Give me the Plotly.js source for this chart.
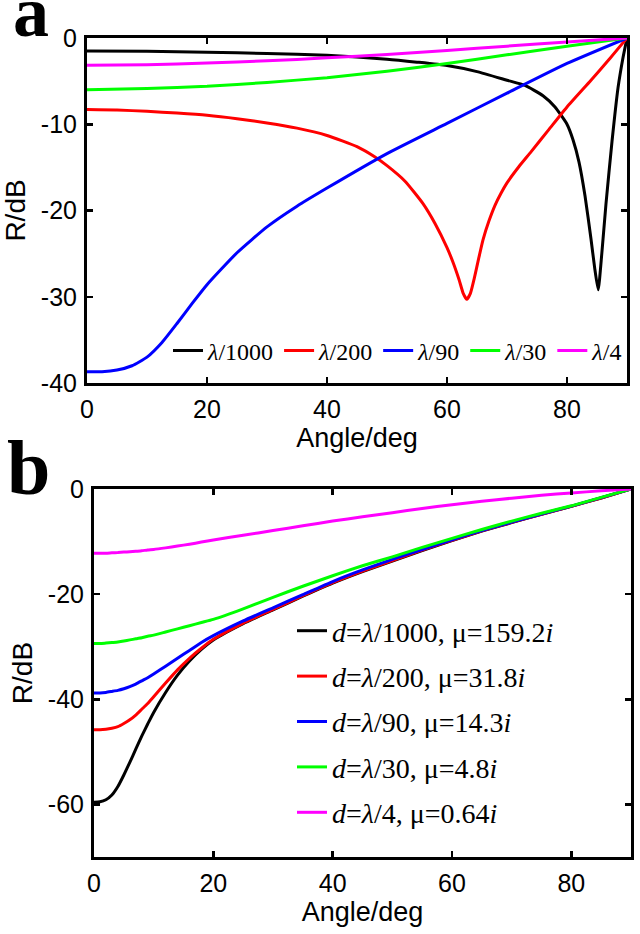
<!DOCTYPE html>
<html>
<head>
<meta charset="utf-8">
<script src="https://cdn.plot.ly/plotly-3.0.1.min.js"></script>
<style>html,body{margin:0;padding:0;background:#fff;}#chart{width:640px;height:934px;}</style>
</head>
<body>
<div id="chart"></div>
<script>
// ---------- Panel a data (angle in degrees, R in dB) ----------
const angA_l1000 = [0,10,20,30,40,50,55,60,65,70,73,76,78,80,81,82,83,84,84.6,85.2,85.8,86.5,87.5,88.5,89.3,90];
const a_l1000    = [-1.5,-1.55,-1.65,-1.8,-2.0,-2.45,-2.8,-3.2,-3.9,-4.9,-5.5,-6.7,-8.0,-10.0,-11.8,-14.4,-18.3,-23.3,-26.6,-29.2,-25.0,-19.2,-12.0,-5.8,-2.4,0];
const angA_l200  = [0,5,10,15,20,25,30,35,40,45,48,50,53,56,58,60,61,62,62.7,63.3,63.9,64.6,65.3,66,67,68,69,70,72,74,77,80,84,87,90];
const a_l200     = [-8.3,-8.35,-8.5,-8.7,-8.95,-9.35,-9.85,-10.45,-11.3,-12.6,-13.8,-14.8,-16.6,-19.2,-21.5,-24.3,-26.0,-28.0,-29.6,-30.3,-29.6,-27.7,-25.5,-23.4,-21.2,-19.4,-18.0,-16.8,-14.9,-13.2,-10.6,-8.0,-4.9,-2.5,0];
const angA_l90   = [0,2.5,5,7.5,10,12.5,15,17.5,20,25,30,35,40,50,60,70,80,90];
const a_l90      = [-38.7,-38.7,-38.5,-38.0,-37.0,-35.3,-33.1,-30.8,-28.6,-24.9,-21.9,-19.5,-17.4,-13.4,-9.9,-6.4,-2.95,0];
const angA_l30   = [0,10,20,30,40,50,60,70,80,90];
const a_l30      = [-6.0,-5.85,-5.6,-5.15,-4.6,-3.85,-2.95,-1.95,-0.95,0];
const angA_l4    = [0,10,20,30,40,50,60,70,80,90];
const a_l4       = [-3.15,-3.1,-2.9,-2.65,-2.3,-1.9,-1.45,-0.95,-0.45,0];

// ---------- Panel b data ----------
const angleB  = [0,1,2,3,4,5,6,7,8,9,10,12,14,16,18,20,25,30,35,40,45,50,55,60,65,70,75,80,85,90];
const b_l1000 = [-59.6,-59.5,-59.1,-58.2,-56.6,-54.4,-52.0,-49.5,-47.0,-44.7,-42.5,-38.7,-35.4,-32.7,-30.5,-28.7,-25.6,-23.0,-20.4,-17.9,-15.7,-13.7,-11.7,-9.8,-8.0,-6.4,-4.8,-3.3,-1.7,0];
const b_l200  = [-45.8,-45.8,-45.7,-45.5,-45.2,-44.6,-43.9,-43.0,-41.9,-40.8,-39.5,-36.9,-34.4,-32.2,-30.3,-28.6,-25.5,-22.9,-20.3,-17.8,-15.6,-13.6,-11.6,-9.75,-7.95,-6.35,-4.8,-3.3,-1.7,0];
const b_l90   = [-38.8,-38.8,-38.7,-38.5,-38.3,-38.0,-37.6,-37.1,-36.5,-35.9,-35.2,-33.7,-32.2,-30.7,-29.2,-27.9,-25.1,-22.6,-20.1,-17.6,-15.4,-13.4,-11.5,-9.65,-7.9,-6.3,-4.75,-3.25,-1.65,0];
const b_l30   = [-29.4,-29.4,-29.3,-29.2,-29.1,-28.9,-28.7,-28.5,-28.3,-28.0,-27.8,-27.2,-26.6,-26.0,-25.4,-24.8,-22.8,-20.6,-18.5,-16.5,-14.6,-12.9,-11.1,-9.4,-7.7,-6.1,-4.6,-3.2,-1.6,0];
const b_l4    = [-12.2,-12.2,-12.2,-12.15,-12.1,-12.0,-11.95,-11.85,-11.75,-11.6,-11.5,-11.2,-10.85,-10.5,-10.1,-9.7,-8.8,-7.9,-7.0,-6.1,-5.3,-4.5,-3.7,-3.0,-2.35,-1.75,-1.2,-0.75,-0.35,0];

// ---------- Labels ----------
const namesA = ["<i>λ</i>/1000","<i>λ</i>/200","<i>λ</i>/90","<i>λ</i>/30","<i>λ</i>/4"];
const namesB = ["<i>d</i>=<i>λ</i>/1000, μ=159.2<i>i</i>","<i>d</i>=<i>λ</i>/200, μ=31.8<i>i</i>","<i>d</i>=<i>λ</i>/90, μ=14.3<i>i</i>","<i>d</i>=<i>λ</i>/30, μ=4.8<i>i</i>","<i>d</i>=<i>λ</i>/4, μ=0.64<i>i</i>"];
const colors = ["#000000","#ff0000","#0000ff","#00ff00","#ff00ff"];
const xTickVals = [0,20,40,60,80];
const xTickText = ["0","20","40","60","80"];
const yTickValsA = [-40,-30,-20,-10,0];
const yTickTextA = ["-40","-30","-20","-10","0"];
const yTickValsB = [-60,-40,-20,0];
const yTickTextB = ["-60","-40","-20","0"];

const anglesA = [angA_l1000,angA_l200,angA_l90,angA_l30,angA_l4];
const seriesA = [a_l1000,a_l200,a_l90,a_l30,a_l4];
const seriesB = [b_l1000,b_l200,b_l90,b_l30,b_l4];

const W = 640, H = 934;
const sans = "Liberation Sans, Arial, Helvetica, sans-serif";
const serif = "Liberation Serif, Times New Roman, serif";

const traces = [];
seriesA.forEach((ys,i)=>{
  traces.push({x: anglesA[i], y: ys, type:'scatter', mode:'lines', name: namesA[i],
    line:{color: colors[i], width: 3, shape:'spline', smoothing: 0.5},
    xaxis:'x', yaxis:'y', legend:'legend'});
});
seriesB.forEach((ys,i)=>{
  traces.push({x: angleB, y: ys, type:'scatter', mode:'lines', name: namesB[i],
    line:{color: colors[i], width: 3, shape:'spline', smoothing: 0.5},
    xaxis:'x2', yaxis:'y2', legend:'legend2', legendgroup:'g'+i});
});

function axisCommon(){
  return {showline:true, linecolor:'#000', linewidth:3, mirror:'ticks',
    ticks:'inside', ticklen:6, tickwidth:2.5, tickcolor:'#000',
    showgrid:false, zeroline:false, tickmode:'array', ticklabelstandoff:2,
    tickfont:{family: sans, size: 25, color:'#000'}, fixedrange:true};
}

const layout = {
  width: W, height: H,
  margin:{l:0,r:0,t:0,b:0,pad:0},
  paper_bgcolor:'#fff', plot_bgcolor:'#fff',
  showlegend:true,
  xaxis: Object.assign(axisCommon(), {domain:[87/W, 627/W], range:[0,90], anchor:'y',
    tickvals:xTickVals, ticktext:xTickText,
    title:{text:'Angle/deg', font:{family:sans,size:27,color:'#000'}, standoff:0}}),
  yaxis: Object.assign(axisCommon(), {domain:[1-383/H, 1-38/H], range:[-40,0], anchor:'x',
    tickvals:yTickValsA, ticktext:yTickTextA,
    title:{text:'R/dB', font:{family:sans,size:28,color:'#000'}, standoff:8}}),
  xaxis2: Object.assign(axisCommon(), {domain:[94/W, 631/W], range:[0,90], anchor:'y2',
    tickvals:xTickVals, ticktext:xTickText,
    title:{text:'Angle/deg', font:{family:sans,size:27,color:'#000'}, standoff:0}}),
  yaxis2: Object.assign(axisCommon(), {domain:[1-857/H, 1-489/H], range:[-70,0], anchor:'x2',
    tickvals:yTickValsB, ticktext:yTickTextB,
    title:{text:'R/dB', font:{family:sans,size:28,color:'#000'}, standoff:8}}),
  legend:{orientation:'h', x:168/W, xanchor:'left', y:1-351/H, yanchor:'middle',
    bgcolor:'rgba(0,0,0,0)', borderwidth:0, font:{family:serif,size:24,color:'#000'}},
  legend2:{orientation:'v', x:292/W, xanchor:'left', y:1-606/H, yanchor:'top',
    bgcolor:'rgba(0,0,0,0)', borderwidth:0, tracegroupgap:6,
    font:{family:serif,size:28,color:'#000'}},
  annotations:[
    {text:'<b>a</b>', xref:'paper', yref:'paper', x:31/W, y:1-54/H, xanchor:'center', yanchor:'bottom',
     showarrow:false, font:{family:serif,size:72,color:'#000'}},
    {text:'<b>b</b>', xref:'paper', yref:'paper', x:28/W, y:1-513/H, xanchor:'center', yanchor:'bottom',
     showarrow:false, font:{family:serif,size:78,color:'#000'}}
  ]
};

Plotly.newPlot('chart', traces, layout, {displayModeBar:false, staticPlot:true});
</script>
</body>
</html>
